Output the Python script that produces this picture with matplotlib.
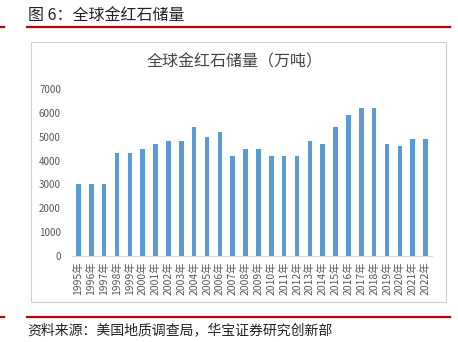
import matplotlib.pyplot as plt
from matplotlib.patches import Rectangle
from matplotlib.lines import Line2D

plt.rcParams['font.family'] = ['Noto Sans CJK SC', 'DejaVu Sans']

years = [f'{y}年' for y in range(1995, 2023)]
reserves = [3000, 3000, 3000, 4300, 4300, 4500, 4700, 4800, 4800, 5400,
            5000, 5200, 4200, 4500, 4500, 4200, 4200, 4200, 4800, 4700,
            5400, 5900, 6200, 6200, 4700, 4600, 4900, 4900]
yticks = [0, 1000, 2000, 3000, 4000, 5000, 6000, 7000]

W, H = 458, 342
fig = plt.figure(figsize=(W / 100, H / 100), dpi=100)

def fx(px):
    return px / W

def fy(py):
    return 1 - py / H

# header / footer rules
red = '#C00000'
for py in (27, 317):
    fig.add_artist(Line2D([fx(27), fx(450)], [fy(py), fy(py)], color=red, lw=1.6))
    fig.add_artist(Line2D([fx(0), fx(4)], [fy(py), fy(py)], color=red, lw=1.6))

fig.text(fx(28), fy(15), '图 6：全球金红石储量', fontsize=11.5, va='center', ha='left', color='#222222')
fig.text(fx(27), fy(330), '资料来源：美国地质调查局，华宝证券研究创新部', fontsize=10,
         va='center', ha='left', color='#222222')

# chart frame
fig.add_artist(Rectangle((fx(31), fy(302)), fx(446) - fx(31), fy(42) - fy(302),
                         fill=False, edgecolor='#D0D0D0', lw=0.8))
fig.text(fx(235), fy(62), '全球金红石储量（万吨）', fontsize=11.5, ha='center', va='center',
         color='#444444')

ax = fig.add_axes([fx(72), fy(256), fx(432) - fx(72), fy(89) - fy(256)])
x = range(len(years))
ax.bar(x, reserves, width=0.36, color='#5B9BD5')
ax.set_xlim(-0.5, len(years) - 0.5)
ax.set_ylim(0, 7000)
ax.set_yticks(yticks)
ax.set_yticklabels([str(v) for v in yticks])
ax.set_xticks(list(x))
ax.set_xticklabels(years, rotation=90)
for s in ('top', 'right', 'left'):
    ax.spines[s].set_visible(False)
ax.spines['bottom'].set_color('#D9D9D9')
ax.tick_params(axis='both', length=0, colors='#595959')
ax.tick_params(axis='y', labelsize=7, pad=8)
ax.tick_params(axis='x', labelsize=7.5, pad=4)

fig.savefig('out.png', dpi=100)
